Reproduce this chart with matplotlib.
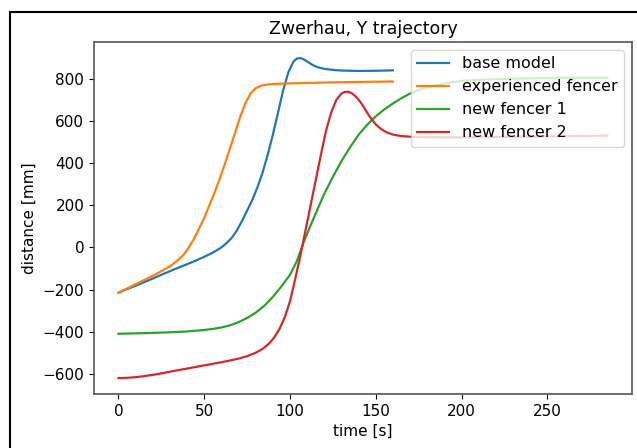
import numpy as np
import matplotlib
matplotlib.use("Agg")
import matplotlib.pyplot as plt
from matplotlib.lines import Line2D

# base model
t_base = [0, 5, 10, 15, 20, 25, 30, 35, 40, 45, 50, 55, 60, 63, 66, 69, 72,
          75, 78, 81, 84, 87, 90, 93, 96, 99, 102, 104, 106, 108, 110, 113,
          116, 120, 125, 130, 140, 150, 160]
y_base = [-215, -198, -182, -165, -148, -130, -113, -96, -80, -63, -45, -25,
          0, 20, 45, 80, 125, 175, 225, 285, 355, 440, 535, 640, 745, 830,
          882, 896, 898, 892, 882, 866, 855, 847, 842, 839, 837, 838, 840]

# experienced fencer
t_exp = [0, 5, 10, 15, 20, 25, 30, 34, 38, 41, 44, 47, 50, 53, 56, 59, 62,
         65, 68, 71, 74, 77, 80, 83, 87, 92, 100, 120, 140, 160]
y_exp = [-215, -195, -175, -155, -135, -113, -90, -65, -35, 0, 40, 90, 140,
         200, 260, 325, 395, 470, 545, 620, 685, 730, 755, 767, 773, 776,
         778, 782, 785, 787]

# new fencer 1
t_new1 = [0, 10, 20, 30, 40, 50, 55, 60, 65, 70, 75, 80, 85, 90, 95, 100,
          104, 108, 112, 116, 120, 125, 130, 135, 140, 145, 150, 155, 160,
          165, 170, 175, 180, 190, 200, 215, 230, 260, 285]
y_new1 = [-410, -408, -406, -403, -399, -392, -387, -380, -370, -355, -335,
          -310, -277, -235, -185, -130, -65, 25, 105, 180, 255, 335, 410,
          475, 535, 582, 622, 655, 683, 708, 730, 747, 760, 778, 790, 797,
          801, 804, 805]

# new fencer 2
t_new2 = [0, 5, 10, 15, 20, 25, 30, 40, 50, 60, 65, 70, 75, 80, 84, 88, 91,
          94, 97, 100, 103, 106, 109, 112, 115, 118, 121, 124, 127, 130, 132,
          134, 136, 138, 140, 142, 144, 146, 148, 150, 153, 156, 160, 165,
          170, 185, 200, 240, 285]
y_new2 = [-620, -619, -616, -611, -605, -598, -590, -575, -560, -545, -537,
          -528, -516, -500, -482, -455, -425, -385, -330, -255, -150, -40, 80,
          200, 320, 440, 555, 640, 700, 730, 738, 738, 731, 718, 700, 678,
          652, 626, 603, 583, 562, 547, 535, 528, 525, 522, 522, 525, 530]

fig = plt.figure(figsize=(6.37, 4.48), dpi=100)
ax = fig.add_axes([0.1476, 0.1205, 0.8444, 0.7855])

lw = 1.6
ax.plot(t_base, y_base, lw=lw, label="base model")
ax.plot(t_exp, y_exp, lw=lw, label="experienced fencer")
ax.plot(t_new1, y_new1, lw=lw, label="new fencer 1")
ax.plot(t_new2, y_new2, lw=lw, label="new fencer 2")

ax.set_title("Zwerhau, Y trajectory", fontsize=12.5)
ax.set_xlabel("time [s]", fontsize=11)
ax.set_ylabel("distance [mm]", fontsize=11)
ax.set_yticks([-600, -400, -200, 0, 200, 400, 600, 800])
ax.set_xticks([0, 50, 100, 150, 200, 250])
ax.tick_params(labelsize=11)
for s in ax.spines.values():
    s.set_color("#555555")
    s.set_linewidth(1.2)
ax.legend(loc="upper right", fontsize=11.5)

# screenshot frame
fig.add_artist(Line2D([9.5 / 637, 9.5 / 637], [0, 1 - 12.5 / 448],
                      color="black", lw=1.5, transform=fig.transFigure))
fig.add_artist(Line2D([9.5 / 637, 1], [1 - 12.5 / 448, 1 - 12.5 / 448],
                      color="black", lw=1.5, transform=fig.transFigure))

fig.savefig("out.png", dpi=100)
